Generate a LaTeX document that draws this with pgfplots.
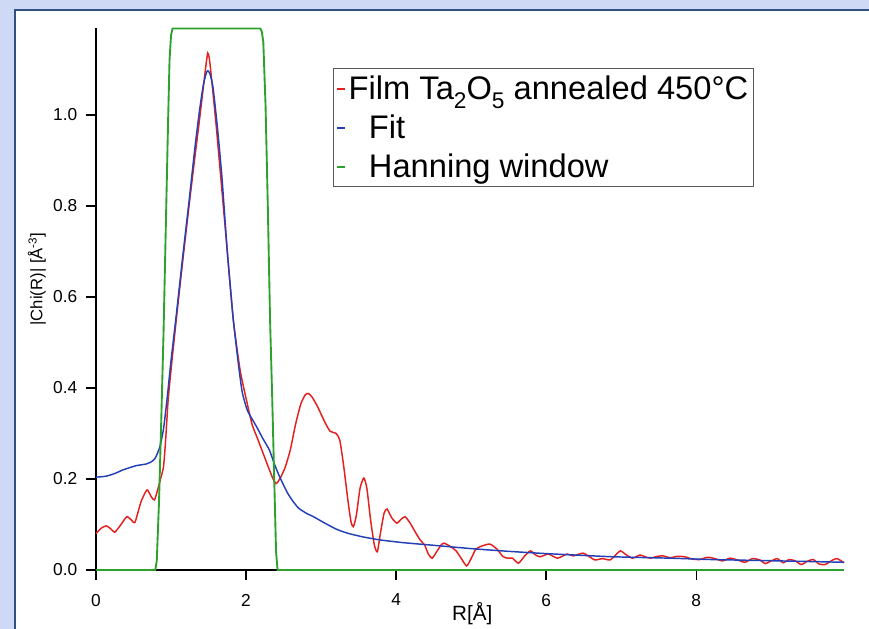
\documentclass[border=0pt]{standalone}
\usepackage{pgfplots}
\pgfplotsset{compat=1.18}
\usepackage{fontspec}
\setmainfont{Liberation Sans}
\definecolor{bgblue}{HTML}{CDD9F5}
\definecolor{brdblue}{HTML}{34507F}
\definecolor{cred}{HTML}{E3201E}
\definecolor{cblue}{HTML}{2340B8}
\definecolor{cgreen}{HTML}{2EA02E}
\newcommand{\lsub}[1]{\raisebox{-6.5pt}{\fontsize{17}{19}\selectfont #1}}
\begin{document}
\begin{tikzpicture}
\fill[bgblue] (-72pt,-44.25pt) rectangle (579.75pt,427.5pt);
\fill[white] (-60.75pt,-44.25pt) rectangle (579.75pt,420pt);
\draw[brdblue, line width=1.4pt] (-60.75pt,-44.25pt) -- (-60.75pt,420pt) -- (579.75pt,420pt);
\begin{axis}[
  at={(0pt,0pt)}, anchor=south west,
  scale only axis, width=561pt, height=406.5pt,
  xmin=0, xmax=9.97, ymin=0, ymax=1.191,
  axis x line*=bottom, axis y line*=left,
  axis line style={line width=1pt, -},
  tick align=outside, major tick length=7.5pt,
  every tick/.style={black, line width=1pt},
  xtick={0,2,4,6,8}, ytick={0,0.2,0.4,0.6,0.8,1.0},
  minor tick num=0,
  clip=false,
  /pgf/number format/assume math mode=true,
  yticklabel style={/pgf/number format/fixed, /pgf/number format/fixed zerofill, /pgf/number format/precision=1, xshift=-3pt},
  xticklabel style={yshift=-7pt},
  tick label style={font=\fontsize{13}{15}\selectfont},
  xlabel={R[Å]},
  ylabel={|Chi(R)| [Å\textsuperscript{-3}]},
  every axis x label/.style={at={(axis description cs:0.503,-0.081)}, anchor=center, font=\fontsize{15.5}{18}\selectfont},
  every axis y label/.style={at={(axis description cs:-0.079,0.537)}, rotate=90, anchor=center, font=\fontsize{12.5}{15}\selectfont},
  legend style={at={(axis cs:3.16,1.103)}, anchor=north west, draw=gray!70!black, line width=0.6pt,
    font=\fontsize{24.5}{28}\selectfont, inner xsep=2pt, inner ysep=3.5pt, row sep=6pt,
    cells={anchor=west}},
  legend image code/.code={\draw[#1, line width=1.4pt] (0pt,0pt) -- (6pt,0pt);},
]
\addplot[cred, line width=1.1pt, smooth, tension=0.35] coordinates {
(0.00,0.080) (0.07,0.092) (0.14,0.097) (0.20,0.090) (0.25,0.083) (0.32,0.097)
(0.41,0.117) (0.47,0.110) (0.52,0.105) (0.60,0.150) (0.68,0.176) (0.74,0.160)
(0.78,0.154) (0.82,0.175) (0.86,0.200) (0.90,0.227) (0.93,0.290) (0.96,0.370)
(1.00,0.440) (1.07,0.550) (1.15,0.670) (1.24,0.800) (1.32,0.910) (1.38,0.990)
(1.43,1.060) (1.47,1.115) (1.49,1.136) (1.51,1.125) (1.54,1.080) (1.60,0.980)
(1.67,0.850) (1.75,0.700) (1.83,0.550) (1.92,0.440) (2.01,0.370) (2.08,0.320)
(2.15,0.290) (2.21,0.264) (2.30,0.225) (2.36,0.200) (2.40,0.190) (2.45,0.200)
(2.52,0.225) (2.59,0.264) (2.66,0.320) (2.73,0.365) (2.79,0.385) (2.83,0.388)
(2.88,0.380) (2.95,0.360) (3.05,0.325) (3.12,0.305) (3.20,0.300) (3.25,0.285)
(3.30,0.230) (3.36,0.150) (3.40,0.105) (3.43,0.095) (3.47,0.120) (3.52,0.180)
(3.57,0.202) (3.61,0.180) (3.66,0.110) (3.71,0.055) (3.75,0.040) (3.79,0.080)
(3.84,0.125) (3.88,0.134) (3.94,0.115) (4.01,0.103) (4.07,0.112) (4.12,0.117)
(4.18,0.105) (4.25,0.085) (4.32,0.066) (4.38,0.055) (4.43,0.035) (4.48,0.026)
(4.54,0.040) (4.60,0.055) (4.64,0.059) (4.72,0.052) (4.80,0.042) (4.87,0.025)
(4.94,0.009) (5.00,0.025) (5.06,0.045) (5.13,0.052) (5.25,0.057) (5.35,0.045)
(5.42,0.030) (5.48,0.026) (5.55,0.026) (5.63,0.015) (5.71,0.030) (5.79,0.042)
(5.86,0.033) (5.92,0.029) (6.03,0.035) (6.15,0.026) (6.28,0.035) (6.36,0.031)
(6.49,0.037) (6.57,0.030) (6.65,0.022) (6.75,0.025) (6.85,0.022) (6.92,0.032)
(6.99,0.042) (7.07,0.033) (7.15,0.026) (7.25,0.033) (7.32,0.029) (7.39,0.026)
(7.48,0.030) (7.56,0.031) (7.65,0.027) (7.75,0.030) (7.85,0.029) (7.95,0.024)
(8.05,0.023) (8.15,0.028) (8.25,0.025) (8.35,0.020) (8.45,0.026) (8.55,0.022)
(8.65,0.017) (8.75,0.025) (8.85,0.022) (8.92,0.014) (9.00,0.020) (9.08,0.025)
(9.16,0.016) (9.24,0.023) (9.32,0.020) (9.40,0.012) (9.48,0.019) (9.56,0.023)
(9.64,0.013) (9.72,0.012) (9.82,0.022) (9.88,0.025) (9.97,0.016)
};
\addlegendentry{Film Ta\lsub{2}O\lsub{5} annealed 450°C}
\addplot[cblue, line width=1.1pt, smooth, tension=0.35] coordinates {
(0.00,0.204) (0.13,0.206) (0.25,0.212) (0.36,0.220) (0.53,0.229) (0.67,0.233)
(0.74,0.238) (0.79,0.246) (0.85,0.270) (0.90,0.310) (0.95,0.380) (1.00,0.460)
(1.07,0.560) (1.15,0.680) (1.24,0.810) (1.32,0.930) (1.38,1.010) (1.43,1.065)
(1.47,1.092) (1.49,1.097) (1.52,1.090) (1.56,1.060) (1.62,0.970) (1.68,0.860)
(1.75,0.700) (1.83,0.550) (1.90,0.450) (1.95,0.390) (2.02,0.350) (2.14,0.315)
(2.22,0.290) (2.31,0.264) (2.38,0.232) (2.45,0.204) (2.55,0.170) (2.63,0.150)
(2.70,0.136) (2.80,0.125) (2.90,0.117) (3.05,0.103) (3.20,0.090) (3.35,0.081)
(3.55,0.073) (3.79,0.066) (4.10,0.060) (4.45,0.055) (5.00,0.047) (5.50,0.041)
(6.00,0.036) (6.50,0.032) (6.90,0.029) (7.65,0.026) (8.20,0.023) (8.80,0.021)
(9.40,0.019) (9.97,0.017)
};
\addlegendentry{\hspace{0.62em}Fit}
\addplot[cgreen, line width=1.4pt] coordinates {
(0,0) (0.79,0) (0.81,0.02) (0.84,0.15) (0.87,0.33) (0.90,0.52) (0.93,0.75)
(0.96,0.98) (0.98,1.12) (1.00,1.175) (1.02,1.19) (2.19,1.19) (2.21,1.183)
(2.23,1.16) (2.26,1.02) (2.29,0.80) (2.32,0.55) (2.35,0.37) (2.38,0.17)
(2.40,0.04) (2.42,0) (9.97,0)
};
\addlegendentry{\hspace{0.62em}Hanning window}
\end{axis}
\pgfresetboundingbox
\path[use as bounding box] (-72pt,-44.25pt) rectangle (579.75pt,427.5pt);
\end{tikzpicture}
\end{document}
